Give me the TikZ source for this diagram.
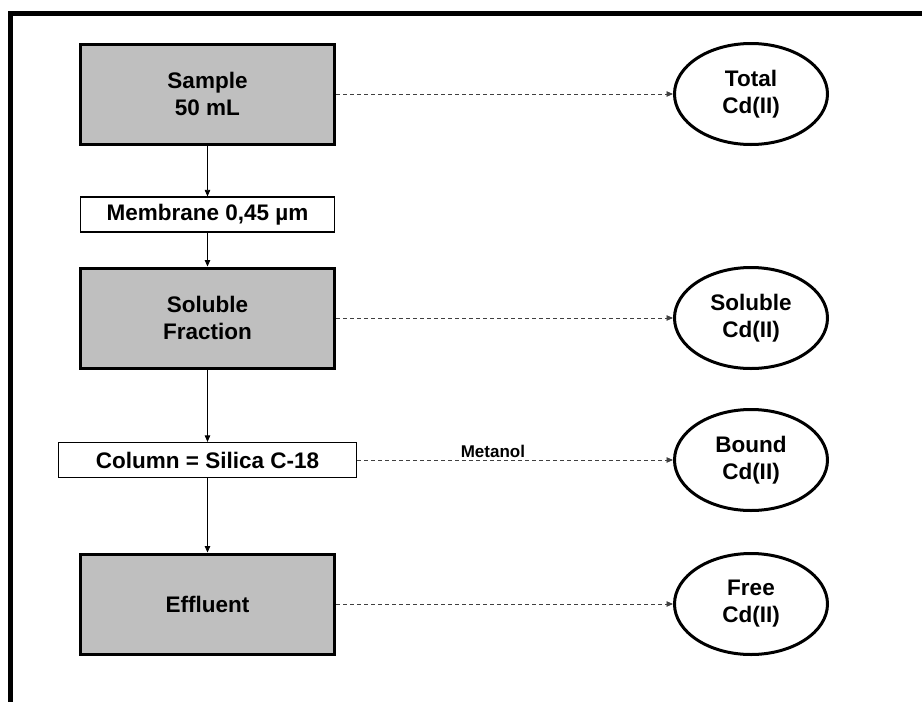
\documentclass[tikz,border=0pt]{standalone}
\usepackage{fontspec}
\setmainfont{Liberation Sans}
\definecolor{boxGray}{HTML}{BFBFBF}
\definecolor{dashGray}{HTML}{404040}
\usetikzlibrary{arrows.meta,positioning,shapes.geometric}

\begin{document}
\begin{tikzpicture}[x=1pt, y=-1pt,
    every node/.style={font=\fontsize{22.5}{27}\selectfont\bfseries, align=center, inner sep=0pt},
    stage/.style={draw, line width=3pt, fill=boxGray, minimum width=254pt, minimum height=100pt},
    filter/.style={draw, line width=1.2pt, fill=white, minimum height=35pt},
    result/.style={draw, ellipse, line width=3pt, minimum width=153pt, minimum height=101pt},
    flow/.style={-{Triangle[length=6.5pt,width=5.5pt]}, line width=0.8pt},
    measure/.style={-{Triangle[length=6.5pt,width=5.5pt]}, dashGray, line width=0.9pt, dash pattern=on 4pt off 3pt}
  ]
        % Page and frame
        \useasboundingbox (0,0) rectangle (922,702);
        \fill[white] (0,0) rectangle (922,702);
        \draw[line width=5pt] (10.5,702) -- (10.5,13.5) -- (922,13.5);
        % Separation steps
        \node[stage] (sample) at (207.5,94) {Sample\\50 mL};
        \node[filter, minimum width=254pt] (membrane) at (207.5,214.5) {Membrane 0,45 µm};
        \node[stage] (soluble) at (207.5,318) {Soluble\\Fraction};
        \node[filter, minimum width=298pt] (column) at (207.5,460) {Column = Silica C-18};
        \node[stage] (effluent) at (207.5,604) {Effluent};
        % Cd(II) forms
        \node[result] (total) at (751,94) {Total\\Cd(II)};
        \node[result] (solcd) at (751,318) {Soluble\\Cd(II)};
        \node[result] (bound) at (751,460) {Bound\\Cd(II)};
        \node[result] (free) at (751,604) {Free\\Cd(II)};
        % Main flow
        \draw[flow] (sample) -- (membrane);
        \draw[flow] (membrane) -- (soluble);
        \draw[flow] (soluble) -- (column);
        \draw[flow] (column) -- (effluent);
        % Determinations
        \draw[measure] (sample) -- (total);
        \draw[measure] (soluble) -- (solcd);
        \draw[measure] (column) -- (bound)
          node[pos=0.43, above, inner sep=1.5pt, font=\fontsize{17}{20}\selectfont\bfseries, black] (metanol) {Metanol};
        \draw[measure] (effluent) -- (free);
      \end{tikzpicture}
\end{document}
